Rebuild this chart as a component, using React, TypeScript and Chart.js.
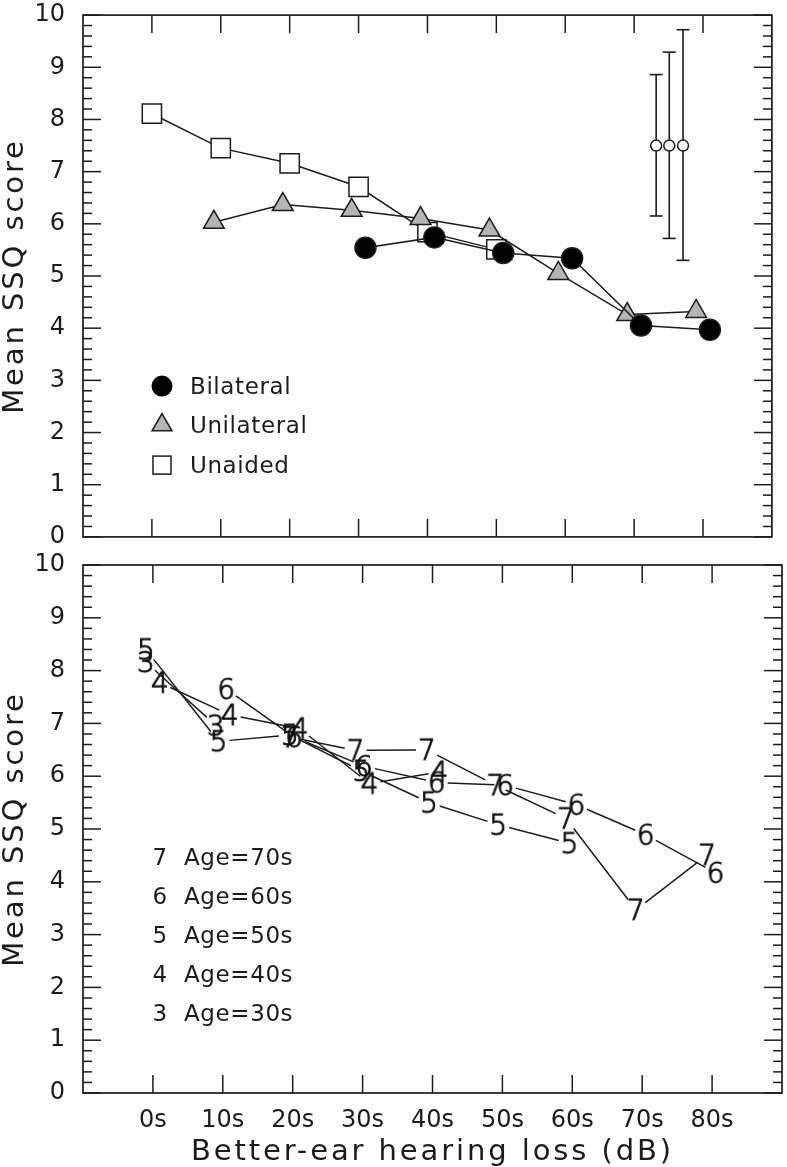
import React, { useEffect, useRef } from 'react';
import { Chart, registerables } from 'chart.js';

Chart.register(...registerables);

const FONT = '"DejaVu Sans", "Noto Sans", sans-serif';
const INK = '#1c1c1c';

// Shared axes
const X_TICKS = [0, 10, 20, 30, 40, 50, 60, 70, 80];
const X_TICK_LABELS = ['0s', '10s', '20s', '30s', '40s', '50s', '60s', '70s', '80s'];
const Y_TICKS = [0, 1, 2, 3, 4, 5, 6, 7, 8, 9, 10];
const Y_TITLE = 'Mean SSQ score';
const X_TITLE = 'Better-ear hearing loss (dB)';

// Top panel series
const bilateralX = [31, 41, 51, 61, 71, 81];
const bilateralY = [5.54, 5.74, 5.44, 5.34, 4.05, 3.97];
const unilateralX = [9, 19, 29, 39, 49, 59, 69, 79];
const unilateralY = [6.03, 6.37, 6.26, 6.1, 5.88, 5.05, 4.26, 4.32];
const unaidedX = [0, 10, 20, 30, 40, 50];
const unaidedY = [8.11, 7.45, 7.16, 6.71, 5.84, 5.51];
const errX = [73.2, 75.1, 77.1];
const errMean = [7.5, 7.5, 7.5];
const errLow = [6.15, 5.72, 5.3];
const errHigh = [8.86, 9.29, 9.72];
const topLegend = ['Bilateral', 'Unilateral', 'Unaided'];

// Bottom panel series (age groups)
const age30X = [-1, 9];
const age30Y = [8.16, 6.96];
const age40X = [1, 11, 21, 31, 41];
const age40Y = [7.77, 7.16, 6.9, 5.86, 6.08];
const age50X = [-1, 9.4, 19.6, 29.8, 39.5, 49.4, 59.6];
const age50Y = [8.4, 6.66, 6.78, 6.1, 5.5, 5.08, 4.73];
const age60X = [10.5, 20.2, 30.2, 40.6, 50.4, 60.6, 70.5, 80.5];
const age60Y = [7.65, 6.74, 6.19, 5.88, 5.83, 5.46, 4.89, 4.17];
const age70X = [19.6, 29, 39.2, 49.0, 59.1, 69.1, 79.3];
const age70Y = [6.74, 6.49, 6.5, 5.83, 5.2, 3.47, 4.51];
const bottomLegendDigits = ['7', '6', '5', '4', '3'];
const bottomLegendText = ['Age=70s', 'Age=60s', 'Age=50s', 'Age=40s', 'Age=30s'];

const pts = (xs: number[], ys: number[]) => xs.map((x, i) => ({ x, y: ys[i] }));

function makeDigit(d: string): HTMLCanvasElement {
  const c = document.createElement('canvas');
  c.width = 26;
  c.height = 32;
  const g = c.getContext('2d')!;
  g.font = `200 28px ${FONT}`;
  g.fillStyle = '#111';
  g.strokeStyle = '#111';
  g.lineWidth = 1.0;
  g.textAlign = 'center';
  g.textBaseline = 'alphabetic';
  g.fillText(d, 13, 16 + 10.2);
  g.strokeText(d, 13, 16 + 10.2);
  return c;
}

function line(ctx: CanvasRenderingContext2D, x1: number, y1: number, x2: number, y2: number) {
  ctx.beginPath();
  ctx.moveTo(x1, y1);
  ctx.lineTo(x2, y2);
  ctx.stroke();
}

const errorBarPlugin = {
  id: 'errorBars',
  beforeDatasetsDraw(chart: any) {
    const o = chart.options.plugins.errorBars;
    if (!o || !o.enabled) return;
    const { ctx, scales } = chart;
    ctx.save();
    ctx.strokeStyle = INK;
    ctx.lineWidth = 1.6;
    errX.forEach((xv, i) => {
      const px = scales.x.getPixelForValue(xv);
      const lo = scales.y.getPixelForValue(errLow[i]);
      const hi = scales.y.getPixelForValue(errHigh[i]);
      line(ctx, px, lo, px, hi);
      line(ctx, px - 6.5, lo, px + 6.5, lo);
      line(ctx, px - 6.5, hi, px + 6.5, hi);
    });
    ctx.restore();
  },
};

const gapLinePlugin = {
  id: 'gapLines',
  beforeDatasetsDraw(chart: any) {
    const ctx = chart.ctx;
    ctx.save();
    ctx.strokeStyle = INK;
    ctx.lineWidth = 1.5;
    chart.data.datasets.forEach((ds: any, i: number) => {
      if (!ds.gapLine) return;
      const els = chart.getDatasetMeta(i).data;
      for (let k = 0; k < els.length - 1; k++) {
        const a = els[k];
        const b = els[k + 1];
        const dx = b.x - a.x;
        const dy = b.y - a.y;
        const L = Math.hypot(dx, dy);
        const ux = dx / L;
        const uy = dy / L;
        const g = 1 / Math.sqrt((ux / 11) ** 2 + (uy / 14) ** 2);
        if (L <= 2 * g) continue;
        line(ctx, a.x + ux * g, a.y + uy * g, b.x - ux * g, b.y - uy * g);
      }
    });
    ctx.restore();
  },
};

const decorPlugin = {
  id: 'decor',
  afterDraw(chart: any) {
    const o = chart.options.plugins.decor || {};
    const { ctx, chartArea: a, scales } = chart;
    const { x, y } = scales;
    ctx.save();
    ctx.strokeStyle = INK;
    ctx.fillStyle = INK;
    ctx.lineWidth = 1.7;
    ctx.strokeRect(a.left, a.top, a.right - a.left, a.bottom - a.top);
    ctx.lineWidth = 1.5;
    for (let i = 0; i <= 50; i++) {
      const py = y.getPixelForValue(i * 0.2);
      const len = i % 5 === 0 ? 18 : 9;
      line(ctx, a.left, py, a.left + len, py);
      line(ctx, a.right, py, a.right - len, py);
    }
    X_TICKS.forEach((v) => {
      const px = x.getPixelForValue(v);
      line(ctx, px, a.bottom, px, a.bottom - 18);
      line(ctx, px, a.top, px, a.top + 18);
    });

    // axis titles
    (ctx as any).letterSpacing = '2.9px';
    ctx.font = `29px ${FONT}`;
    ctx.textAlign = 'center';
    ctx.textBaseline = 'alphabetic';
    ctx.save();
    ctx.translate(23, (a.top + a.bottom) / 2);
    ctx.rotate(-Math.PI / 2);
    ctx.fillText(Y_TITLE, 0, 0);
    ctx.restore();
    if (o.xTitle) {
      ctx.fillText(X_TITLE, (a.left + a.right) / 2, 608);
    }
    (ctx as any).letterSpacing = '0.6px';

    ctx.font = `23px ${FONT}`;
    ctx.textAlign = 'left';
    if (o.legend === 'top') {
      const rows = [371, 410, 450];
      const sx = a.left + 79;
      rows.forEach((r, i) => {
        const cy = a.top + r;
        ctx.lineWidth = 1.5;
        if (i === 0) {
          ctx.beginPath();
          ctx.arc(sx, cy, 10.5, 0, Math.PI * 2);
          ctx.fillStyle = '#000';
          ctx.fill();
        } else if (i === 1) {
          const rr = 11.5;
          ctx.beginPath();
          ctx.moveTo(sx, cy - rr);
          ctx.lineTo(sx + rr * 0.866, cy + rr / 2);
          ctx.lineTo(sx - rr * 0.866, cy + rr / 2);
          ctx.closePath();
          ctx.fillStyle = '#b4b4b4';
          ctx.fill();
          ctx.stroke();
        } else {
          ctx.fillStyle = '#fff';
          ctx.fillRect(sx - 9, cy - 9, 18, 18);
          ctx.strokeRect(sx - 9, cy - 9, 18, 18);
        }
        ctx.fillStyle = INK;
        ctx.fillText(topLegend[i], a.left + 107, cy + 8.3);
      });
    } else if (o.legend === 'bottom') {
      const rows = [292, 331, 370, 409, 448];
      rows.forEach((r, i) => {
        const cy = a.top + r;
        ctx.textAlign = 'center';
        ctx.fillText(bottomLegendDigits[i], a.left + 77, cy + 8.3);
        ctx.textAlign = 'left';
        ctx.fillText(bottomLegendText[i], a.left + 101, cy + 8.3);
      });
    }
    ctx.restore();
  },
};

function baseOptions(showX: boolean, padTop: number, padBottom: number, plugins: any) {
  return {
    animation: false,
    responsive: false,
    maintainAspectRatio: false,
    layout: { padding: { left: 0, right: 2, top: padTop, bottom: padBottom } },
    plugins: {
      legend: { display: false },
      tooltip: { enabled: false },
      ...plugins,
    },
    scales: {
      x: {
        type: 'linear',
        min: -10,
        max: 90,
        display: showX,
        grid: { display: false },
        border: { display: false },
        afterBuildTicks: (s: any) => {
          s.ticks = X_TICKS.map((v) => ({ value: v }));
        },
        ticks: {
          autoSkip: false,
          maxRotation: 0,
          padding: 5,
          color: INK,
          font: { family: FONT, size: 24 },
          callback: (v: number) => X_TICK_LABELS[X_TICKS.indexOf(v)],
        },
        afterFit: (s: any) => {
          s.height = showX ? 74 : 0;
          s.paddingLeft = 0;
          s.paddingRight = 0;
        },
      },
      y: {
        type: 'linear',
        min: 0,
        max: 10,
        grid: { display: false },
        border: { display: false },
        afterBuildTicks: (s: any) => {
          s.ticks = Y_TICKS.map((v) => ({ value: v }));
        },
        ticks: { padding: 10, color: INK, font: { family: FONT, size: 24 } },
        afterFit: (s: any) => {
          s.width = 83;
          s.paddingTop = 0;
          s.paddingBottom = 0;
        },
      },
    },
  };
}

export default function App() {
  const topRef = useRef<HTMLCanvasElement>(null);
  const botRef = useRef<HTMLCanvasElement>(null);

  useEffect(() => {
    const lineStyle = { borderColor: INK, borderWidth: 1.5, showLine: true, pointBorderColor: INK, pointBorderWidth: 1.5 };
    const top = new Chart(topRef.current!, {
      type: 'scatter',
      data: {
        datasets: [
          { ...lineStyle, label: 'Bilateral', data: pts(bilateralX, bilateralY), pointStyle: 'circle', pointRadius: 10.5, pointBackgroundColor: '#000' },
          { ...lineStyle, label: 'Unilateral', data: pts(unilateralX, unilateralY), pointStyle: 'triangle', pointRadius: 12, pointBackgroundColor: '#b4b4b4' },
          { ...lineStyle, label: 'Unaided', data: pts(unaidedX, unaidedY), pointStyle: 'rect', pointRadius: 13.6, pointBackgroundColor: '#fff' },
          { label: 'Spread', data: pts(errX, errMean), showLine: false, pointStyle: 'circle', pointRadius: 5.5, pointBackgroundColor: '#fff', pointBorderColor: INK, pointBorderWidth: 1.5 },
        ],
      },
      options: baseOptions(false, 10, 14, { decor: { legend: 'top', xTitle: false }, errorBars: { enabled: true } }) as any,
      plugins: [errorBarPlugin, decorPlugin],
    });

    const ageSet = (label: string, xs: number[], ys: number[], d: string) => ({
      label,
      data: pts(xs, ys),
      showLine: false,
      gapLine: true,
      pointStyle: makeDigit(d),
      pointRadius: 3,
    });
    const bot = new Chart(botRef.current!, {
      type: 'scatter',
      data: {
        datasets: [
          ageSet('Age=70s', age70X, age70Y, '7'),
          ageSet('Age=60s', age60X, age60Y, '6'),
          ageSet('Age=50s', age50X, age50Y, '5'),
          ageSet('Age=40s', age40X, age40Y, '4'),
          ageSet('Age=30s', age30X, age30Y, '3'),
        ] as any,
      },
      options: baseOptions(true, 13, 0, { decor: { legend: 'bottom', xTitle: true } }) as any,
      plugins: [gapLinePlugin, decorPlugin],
    });

    return () => {
      top.destroy();
      bot.destroy();
    };
  }, []);

  return (
    <div style={{ position: 'absolute', left: 0, top: 0, width: 787, height: 1167, background: '#fff' }}>
      <canvas ref={topRef} width={787} height={552} style={{ display: 'block' }} />
      <canvas ref={botRef} width={787} height={615} style={{ display: 'block' }} />
    </div>
  );
}
